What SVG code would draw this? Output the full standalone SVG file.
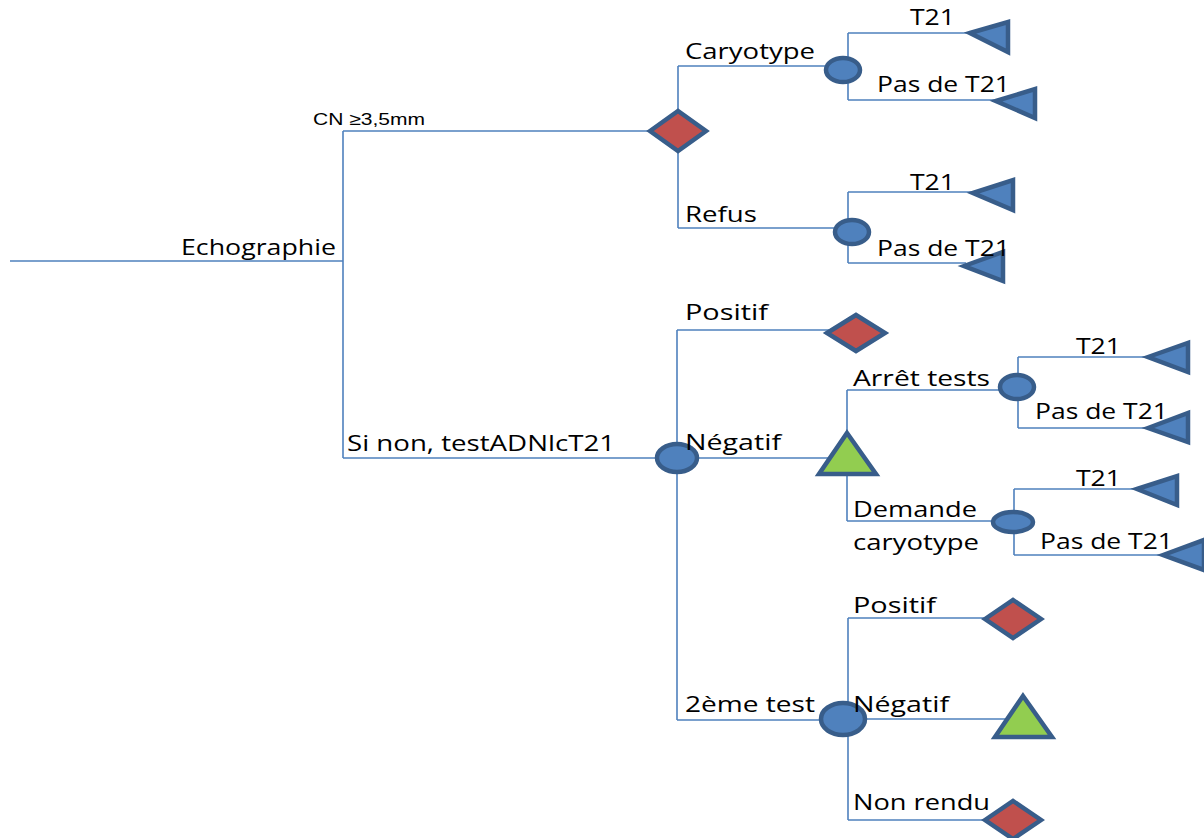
<svg xmlns="http://www.w3.org/2000/svg" width="1204" height="838" viewBox="0 0 1204 838">
<style>
.ln{fill:none;stroke:#4F81BD;stroke-width:1.6}
.ch{fill:#4F81BD;stroke:#385D8A;stroke-width:4.5}
.dm{fill:#C0504D;stroke:#385D8A;stroke-width:4.5;stroke-linejoin:miter}
.tr{fill:#92CD50;stroke:#385D8A;stroke-width:4.5;stroke-linejoin:miter}
.te{fill:#4F81BD;stroke:#385D8A;stroke-width:4.5;stroke-linejoin:miter}
.t{font-family:"Open Sans","Noto Sans",sans-serif;font-size:21px;fill:#000}
.a{font-family:"Liberation Sans",Arial,sans-serif;font-size:17px;fill:#000}
</style>
<rect width="1204" height="838" fill="#fff"/>
<g id="connectors">
<path class="ln" d="M10 261H343M343 131V458M343 131H678M343 458H677"/>
<path class="ln" d="M678 66V228M678 66H843M678 228H852"/>
<path class="ln" d="M848 33V100M848 33H972M848 100H998"/>
<path class="ln" d="M848 192V263M848 192H975M848 263H966"/>
<path class="ln" d="M677 330V720M677 330H856M677 458H847M677 720H843"/>
<path class="ln" d="M847 390V521M847 390H1017M847 521H1013"/>
<path class="ln" d="M1018 357V428M1018 357H1148M1018 428H1148"/>
<path class="ln" d="M1014 489V555M1014 489H1137M1014 555H1163"/>
<path class="ln" d="M848 618V820M848 618H1013M848 719H1023M848 820H1013"/>
</g>
<g id="label-root"><text class="t" x="181" y="255" textLength="155" lengthAdjust="spacingAndGlyphs">Echographie</text></g>
<g id="label-cn"><text class="a" x="313" y="125" textLength="112" lengthAdjust="spacingAndGlyphs">CN ≥3,5mm</text></g>
<g id="label-sinon"><text class="t" x="347" y="451" textLength="268" lengthAdjust="spacingAndGlyphs">Si non, testADNlcT21</text></g>
<g id="node-d1"><polygon class="dm" points="650,131 678,111 706,131 678,151"/></g>
<g id="label-caryo"><text class="t" x="685" y="59" textLength="130" lengthAdjust="spacingAndGlyphs">Caryotype</text></g>
<g id="label-refus"><text class="t" x="685" y="222" textLength="72" lengthAdjust="spacingAndGlyphs">Refus</text></g>
<g id="node-c1"><ellipse class="ch" cx="843" cy="70" rx="17" ry="12"/></g>
<g id="node-c2"><ellipse class="ch" cx="852" cy="232" rx="17" ry="12"/></g>
<g id="node-e1"><polygon class="te" points="970,33 1008,22 1008,52"/><text class="t" x="910" y="25" textLength="45" lengthAdjust="spacingAndGlyphs">T21</text></g>
<g id="node-e2"><polygon class="te" points="996,101 1035,89 1035,118"/><text class="t" x="877" y="92" textLength="133" lengthAdjust="spacingAndGlyphs">Pas de T21</text></g>
<g id="node-e3"><polygon class="te" points="973,193 1013,180 1013,210"/><text class="t" x="910" y="190" textLength="45" lengthAdjust="spacingAndGlyphs">T21</text></g>
<g id="node-e4"><polygon class="te" points="964,266 1003,252 1003,281"/><text class="t" x="877" y="256" textLength="133" lengthAdjust="spacingAndGlyphs">Pas de T21</text></g>
<g id="node-c3"><ellipse class="ch" cx="677" cy="458" rx="20" ry="14"/></g>
<g id="label-pos1"><text class="t" x="685" y="320" textLength="83" lengthAdjust="spacingAndGlyphs">Positif</text></g>
<g id="label-neg1"><text class="t" x="685" y="450" textLength="96" lengthAdjust="spacingAndGlyphs">Négatif</text></g>
<g id="label-2e"><text class="t" x="685" y="712" textLength="130" lengthAdjust="spacingAndGlyphs">2ème test</text></g>
<g id="node-d2"><polygon class="dm" points="827,333 856,315 885,333 856,351"/></g>
<g id="node-t1"><polygon class="tr" points="847,433 876,474 819,474"/></g>
<g id="label-arret"><text class="t" x="853" y="386" textLength="137" lengthAdjust="spacingAndGlyphs">Arrêt tests</text></g>
<g id="label-dem"><text class="t" x="853" y="517" textLength="124" lengthAdjust="spacingAndGlyphs">Demande</text><text class="t" x="853" y="550" textLength="126" lengthAdjust="spacingAndGlyphs">caryotype</text></g>
<g id="node-c4"><ellipse class="ch" cx="1017" cy="387" rx="17" ry="12"/></g>
<g id="node-c5"><ellipse class="ch" cx="1013" cy="522" rx="20" ry="10"/></g>
<g id="node-e5"><polygon class="te" points="1148,357 1188,343 1188,372"/><text class="t" x="1076" y="354" textLength="45" lengthAdjust="spacingAndGlyphs">T21</text></g>
<g id="node-e6"><polygon class="te" points="1148,428 1188,413 1188,442"/><text class="t" x="1035" y="419" textLength="133" lengthAdjust="spacingAndGlyphs">Pas de T21</text></g>
<g id="node-e7"><polygon class="te" points="1137,489 1177,476 1177,505"/><text class="t" x="1076" y="486" textLength="45" lengthAdjust="spacingAndGlyphs">T21</text></g>
<g id="node-e8"><polygon class="te" points="1163,555 1204,540 1204,570"/><text class="t" x="1040" y="549" textLength="133" lengthAdjust="spacingAndGlyphs">Pas de T21</text></g>
<g id="node-c6"><ellipse class="ch" cx="843" cy="719" rx="22" ry="16"/></g>
<g id="label-pos2"><text class="t" x="853" y="613" textLength="83" lengthAdjust="spacingAndGlyphs">Positif</text></g>
<g id="label-neg2"><text class="t" x="853" y="712" textLength="96" lengthAdjust="spacingAndGlyphs">Négatif</text></g>
<g id="label-nr"><text class="t" x="853" y="810" textLength="137" lengthAdjust="spacingAndGlyphs">Non rendu</text></g>
<g id="node-d3"><polygon class="dm" points="985,619 1013,600 1041,619 1013,638"/></g>
<g id="node-t2"><polygon class="tr" points="1023,696 1052,737 995,737"/></g>
<g id="node-d4"><polygon class="dm" points="985,820 1013,801 1041,820 1013,839"/></g>
</svg>
